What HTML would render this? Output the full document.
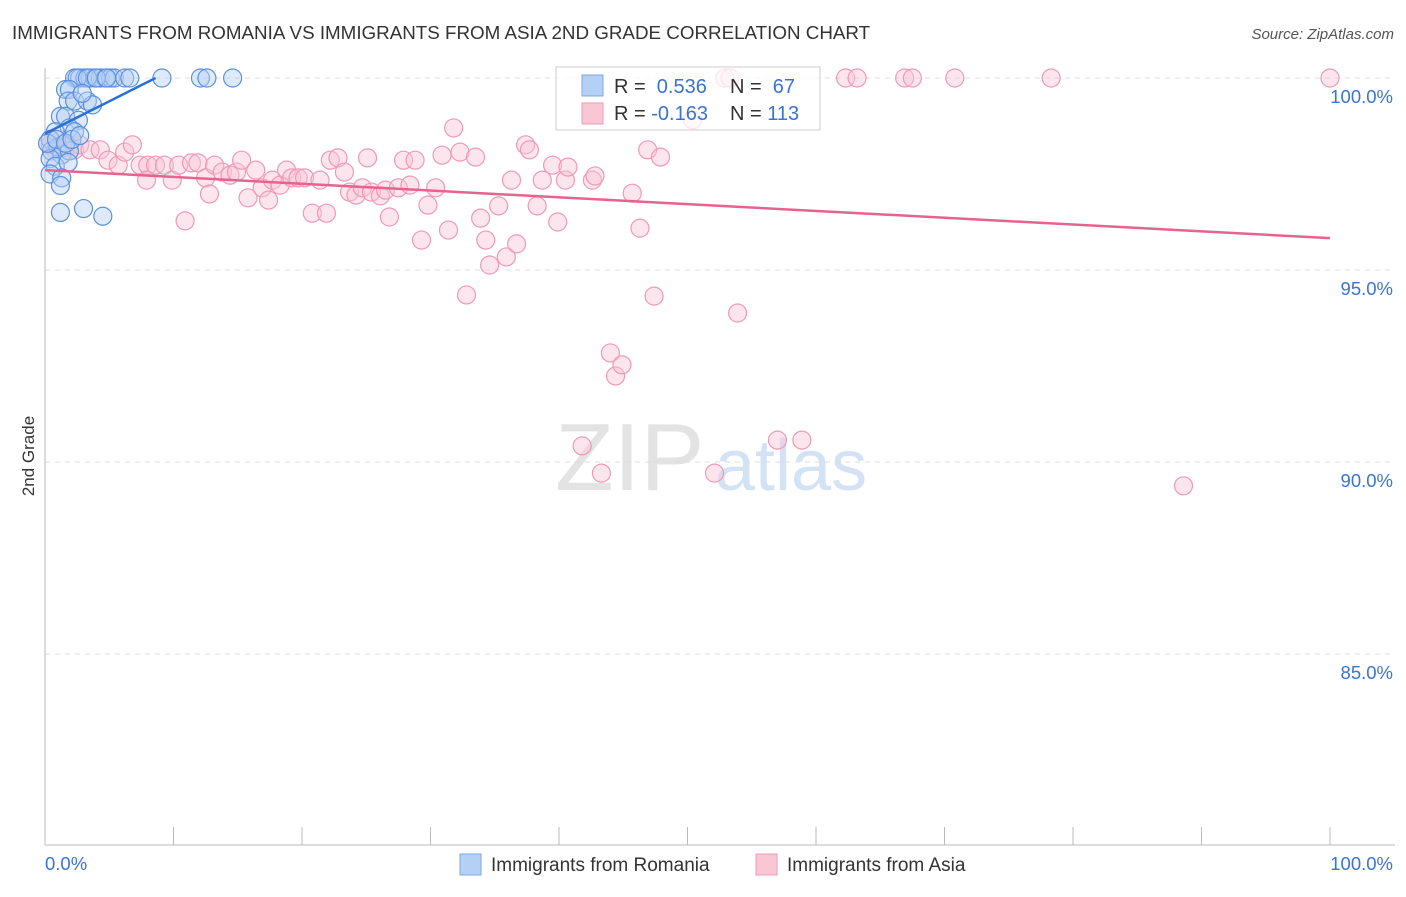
<!DOCTYPE html>
<html><head><meta charset="utf-8"><style>
body{margin:0;background:#fff;font-family:"Liberation Sans",sans-serif;}
svg text{font-family:"Liberation Sans",sans-serif;}
</style></head><body>
<svg id="chart" width="1406" height="892" viewBox="0 0 1406 892" xmlns="http://www.w3.org/2000/svg">
<text x="12" y="39" font-size="18.8" fill="#333">IMMIGRANTS FROM ROMANIA VS IMMIGRANTS FROM ASIA 2ND GRADE CORRELATION CHART</text>
<text x="1394" y="39" font-size="15" fill="#555" font-style="italic" text-anchor="end">Source: ZipAtlas.com</text>
<text x="34" y="456" font-size="17" fill="#333" text-anchor="middle" transform="rotate(-90 34 456)">2nd Grade</text>
<g><text x="555" y="490" font-size="96" fill="#ddd" font-family="Liberation Serif" opacity="0.8">ZIP</text><text x="715" y="490" font-size="72" fill="#c9dcf2" opacity="0.8">atlas</text></g>
<g id="grid"></g><g id="axes"></g><g id="pts"></g><g id="lines"></g>
<g>
<rect x="556" y="67" width="264" height="63" fill="#fff" fill-opacity="0.75" stroke="#ccc"/>
<rect x="582" y="75" width="21" height="21" fill="#b5d0f5" stroke="#7aa7e6"/>
<rect x="582" y="103" width="21" height="21" fill="#f9c6d6" stroke="#ee9ab5"/>
<text x="614" y="93" font-size="20" fill="#333">R = <tspan fill="#3a73d6">&#160;0.536</tspan></text>
<text x="730" y="93" font-size="20" fill="#333">N = <tspan fill="#3a73d6">&#160;67</tspan></text>
<text x="614" y="120" font-size="20" fill="#333">R = <tspan fill="#3a73d6">-0.163</tspan></text>
<text x="730" y="120" font-size="20" fill="#333">N = <tspan fill="#3a73d6">113</tspan></text>
</g>
<g>
<rect x="460" y="854" width="21" height="21" fill="#b5d0f5" stroke="#7aa7e6"/>
<text x="491" y="871" font-size="19" fill="#333">Immigrants from Romania</text>
<rect x="756" y="854" width="21" height="21" fill="#f9c6d6" stroke="#ee9ab5"/>
<text x="787" y="871" font-size="19" fill="#333">Immigrants from Asia</text>
</g>
</svg>
<script>
const yTicks=[100,95,90,85];
const yTickLabels=["100.0%","95.0%","90.0%","85.0%"];
const xEndLabels=["0.0%","100.0%"];
const blueX=[2.3,2.7,3.1,3.5,3.9,4.3,4.7,5.1,5.4,6.2,6.6,9.1,12.1,12.6,14.6,2.5,3.3,4.0,4.8,1.6,1.9,1.8,2.3,3.3,3.7,2.9,1.2,1.6,2.6,1.9,2.3,0.8,0.4,0.5,1.0,1.3,1.9,0.4,0.8,1.8,0.4,1.3,1.2,1.2,3.0,4.5,0.2,0.9,1.6,2.1,2.7];
const blueY=[100,100,100,100,100,100,100,100,100,100,100,100,100,100,100,100,100,100,100,99.7,99.7,99.4,99.4,99.4,99.3,99.6,99.0,99.0,98.9,98.7,98.6,98.6,98.4,98.1,98.2,98.0,98.1,97.9,97.7,97.8,97.5,97.4,97.2,96.5,96.6,96.4,98.3,98.4,98.3,98.4,98.5];
const pinkX=[0.4,0.8,1.2,1.6,1.9,2.3,2.7,3.5,4.3,4.9,5.7,6.2,6.8,7.4,8.0,7.9,8.6,9.3,9.9,10.4,10.9,11.4,11.9,12.5,12.8,13.2,13.8,14.4,14.9,15.3,15.8,16.4,16.9,17.4,17.7,18.3,18.8,19.2,19.7,20.2,20.8,21.4,21.9,22.2,22.8,23.3,23.7,24.2,24.7,25.1,25.4,26.1,26.5,26.8,27.5,27.9,28.4,28.8,29.3,29.8,30.4,30.9,31.4,31.8,32.3,32.8,33.5,33.9,34.3,34.6,35.3,35.9,36.3,36.7,37.4,37.7,38.3,38.7,39.5,39.9,40.5,40.7,42.6,42.8,41.8,43.3,44.0,44.4,44.9,45.7,46.3,46.9,47.4,47.9,50.4,52.1,52.9,53.3,53.9,57.0,58.9,62.3,63.2,66.9,67.5,70.8,78.3,88.6,100];
const pinkY=[98.26,98.13,98.39,98.18,98.26,98.13,98.26,98.13,98.13,97.86,97.73,98.07,98.26,97.73,97.73,97.34,97.73,97.73,97.34,97.73,96.28,97.79,97.79,97.40,96.98,97.73,97.55,97.47,97.55,97.86,96.88,97.60,97.14,96.82,97.34,97.21,97.60,97.40,97.40,97.40,96.48,97.34,96.48,97.86,97.92,97.55,97.03,96.95,97.14,97.92,97.03,96.93,97.08,96.38,97.14,97.86,97.21,97.86,95.78,96.69,97.14,97.99,96.04,98.70,98.07,94.35,97.94,96.35,95.78,95.13,96.67,95.34,97.34,95.68,98.26,98.13,96.67,97.34,97.73,96.25,97.34,97.68,97.34,97.45,90.42,89.71,92.84,92.24,92.53,97.0,96.09,98.13,94.32,97.94,98.91,89.71,100,100,93.88,90.57,90.57,100,100,100,100,100,100,89.38,100];
const X0=45,X1=1330,Y100=78,PX5=192;
const xs=v=>X0+(v/100)*(X1-X0);
const ys=v=>Y100+(100-v)/5*PX5;
const NS="http://www.w3.org/2000/svg";
function mk(tag,attrs,parent){const e=document.createElementNS(NS,tag);for(const k in attrs)e.setAttribute(k,attrs[k]);document.getElementById(parent).appendChild(e);return e;}
yTicks.forEach((t,i)=>{
  const g=mk('line',{x1:45,x2:1395,y1:ys(t),y2:ys(t),stroke:'#ddd','stroke-dasharray':'5,5'},'grid');
  
  
  const l=mk('text',{x:1393,y:ys(t)+25,'font-size':18.5,fill:'#3a73d6','text-anchor':'end'},'grid');
  l.textContent=yTickLabels[i];
  
  
});
const ax=mk('line',{x1:45,x2:45,y1:68,y2:845,stroke:'#bbb'},'axes');


const bx=mk('line',{x1:45,x2:1395,y1:845,y2:845,stroke:'#bbb'},'axes');


for(let i=1;i<=10;i++){
  const t=mk('line',{x1:xs(i*10),x2:xs(i*10),y1:827,y2:845,stroke:'#bbb'},'axes');
  
  
}
[[0,'start',45],[100,'end',1393]].forEach((d,i)=>{
  const t=mk('text',{x:d[2],y:870,'font-size':18.5,fill:'#3a73d6','text-anchor':d[1]},'axes');
  t.textContent=xEndLabels[i];
  
  
});
pinkX.forEach((x,i)=>{
  const c=mk('circle',{cx:xs(x),cy:ys(pinkY[i]),r:9,fill:'#f9c6d6','fill-opacity':0.45,stroke:'#ee9ab5','stroke-width':1.2},'pts');
  
  
});
blueX.forEach((x,i)=>{
  const c=mk('circle',{cx:xs(x),cy:ys(blueY[i]),r:9,fill:'#b5d0f5','fill-opacity':0.45,stroke:'#5b90e0','stroke-width':1.2},'pts');
  
  
});
const bl=mk('line',{x1:xs(0),y1:ys(98.55),x2:xs(8.6),y2:ys(100),stroke:'#2a6fd6','stroke-width':2.5},'lines');


const pl=mk('line',{x1:xs(0),y1:ys(97.6),x2:xs(100),y2:ys(95.83),stroke:'#e8628e','stroke-width':2.5},'lines');


</script>
</body></html>
